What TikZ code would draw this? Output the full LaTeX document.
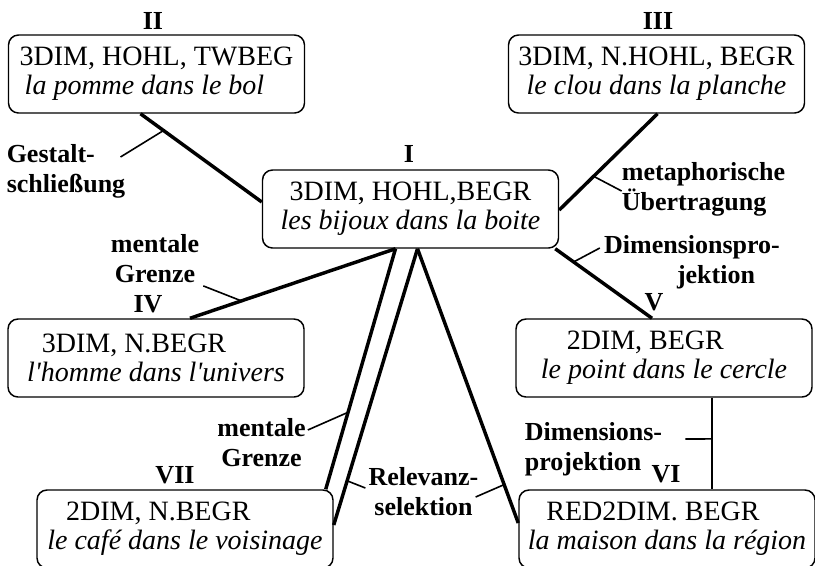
\documentclass[tikz,border=0pt]{standalone}
\usepackage{fontspec}
\setmainfont{Liberation Serif}
\usetikzlibrary{calc}
\begin{document}
\begin{tikzpicture}[x=0.75pt, y=-0.75pt, line join=round]
        \tikzset{box/.style={draw, line width=1.1pt, rounded corners=7.5pt, minimum width=222pt, minimum height=58.5pt, align=center, inner sep=2pt, font=\fontsize{21}{22}\selectfont},
                 lab/.style={inner sep=0pt, font=\fontsize{19.5}{22.5}\selectfont\bfseries},
                 num/.style={inner sep=0pt, anchor=base, font=\fontsize{19.5}{22.5}\selectfont\bfseries},
                 link/.style={line width=2.6pt},
                 thinlink/.style={line width=1.6pt},
                 tick/.style={line width=1.2pt}}
        \useasboundingbox (0,0) rectangle (815,565);
        \fill[white] (0,0) rectangle (815,565);
        \node[box] (bijoux) at (410.5,209) {3DIM, HOHL,BEGR\\\textit{les bijoux dans la boite}};
        \node[box] (pomme) at (156.5,74) {3DIM, HOHL, TWBEG\\\textit{la pomme dans le bol}\hspace*{18pt}};
        \node[box] (clou) at (656.5,74) {3DIM, N.HOHL, BEGR\\\textit{le clou dans la planche}};
        \node[box] (homme) at (156,358) {3DIM, N.BEGR\hspace*{33pt}\\\textit{l\textquotesingle homme dans l\textquotesingle univers}};
        \node[box] (point) at (664,358) {2DIM, BEGR\hspace*{28pt}\\\textit{le point dans le cercle}};
        \node[box] (cafe) at (185,529) {2DIM, N.BEGR\hspace*{40pt}\\\textit{le café dans le voisinage}};
        \node[box] (maison) at (667,529) {RED2DIM. BEGR\hspace*{21pt}\\\textit{la maison dans la région}};
        \node[num] (nI) at (409,162) {I};
        \node[num] (nII) at (153,29) {II};
        \node[num] (nIII) at (658,29) {III};
        \node[num] (nIV) at (148,312) {IV};
        \node[num] (nV) at (654,310) {V};
        \node[num] (nVI) at (666,482) {VI};
        \node[num] (nVII) at (175,483) {VII};
        \node[lab, align=left] (gestalt) at (66,171) {Gestalt-\\schließung};
        \node[lab, align=center] (grenzeA) at (155,258.5) {mentale\\Grenze};
        \node[lab, align=left] (metaph) at (703.5,189) {metaphorische\\Übertragung};
        \node[lab, align=center] (dimA) at (692,262) {Dimensionspro-\\\hspace*{36pt}jektion};
        \node[lab, align=center] (grenzeB) at (261.5,443) {mentale\\Grenze};
        \node[lab, align=center] (relev) at (423.5,492) {Relevanz-\\selektion};
        \node[lab, align=left] (dimB) at (593.5,449) {Dimensions-\\projektion};
        \coordinate (pv) at ($(point.south)+(48,0)$);
        \draw[link] ($(pomme.south)+(-16,0)$) -- coordinate[pos=0.19] (tg) ($(bijoux.west)+(0,-7)$);
        \draw[link] ($(clou.south)+(1,0)$) -- coordinate[pos=0.65] (tm) ($(bijoux.east)+(0,1)$);
        \draw[link] ($(bijoux.south east)+(-4,0)$) -- coordinate[pos=0.19] (tdA) ($(point.north)+(-12,0)$);
        \draw[link] ($(bijoux.south)+(-15,0)$) -- coordinate[pos=0.75] (tgA) ($(homme.north)+(34,0)$);
        \draw[link] ($(bijoux.south)+(-15,0)$) -- coordinate[pos=0.68] (tgB) ($(cafe.north east)+(-8,0)$);
        \draw[link] ($(bijoux.south)+(7,0)$) -- coordinate[pos=0.84] (trA) ($(cafe.east)+(0,-4)$);
        \draw[link] ($(bijoux.south)+(7,0)$) -- coordinate[pos=0.86] (trB) ($(maison.west)+(0,-6)$);
        \draw[thinlink] (pv) -- coordinate[pos=0.45] (tdB) (pv |- maison.north);
        \draw[tick] ($(gestalt.east)+(-5,-14)$) -- (tg);
        \draw[tick] ($(grenzeA.south east)+(4,3)$) -- (tgA);
        \draw[tick] ($(metaph.west)+(0,2)$) -- (tm);
        \draw[tick] ($(dimA.west)+(-4,-14)$) -- (tdA);
        \draw[tick] ($(grenzeB.east)+(2,-13)$) -- (tgB);
        \draw[tick] ($(relev.west)+(-3,-4)$) -- (trA);
        \draw[tick] ($(relev.east)+(-3,5)$) -- (trB);
        \draw[tick] ($(dimB.east)+(23,-10)$) -- (tdB);
    \end{tikzpicture}
\end{document}
